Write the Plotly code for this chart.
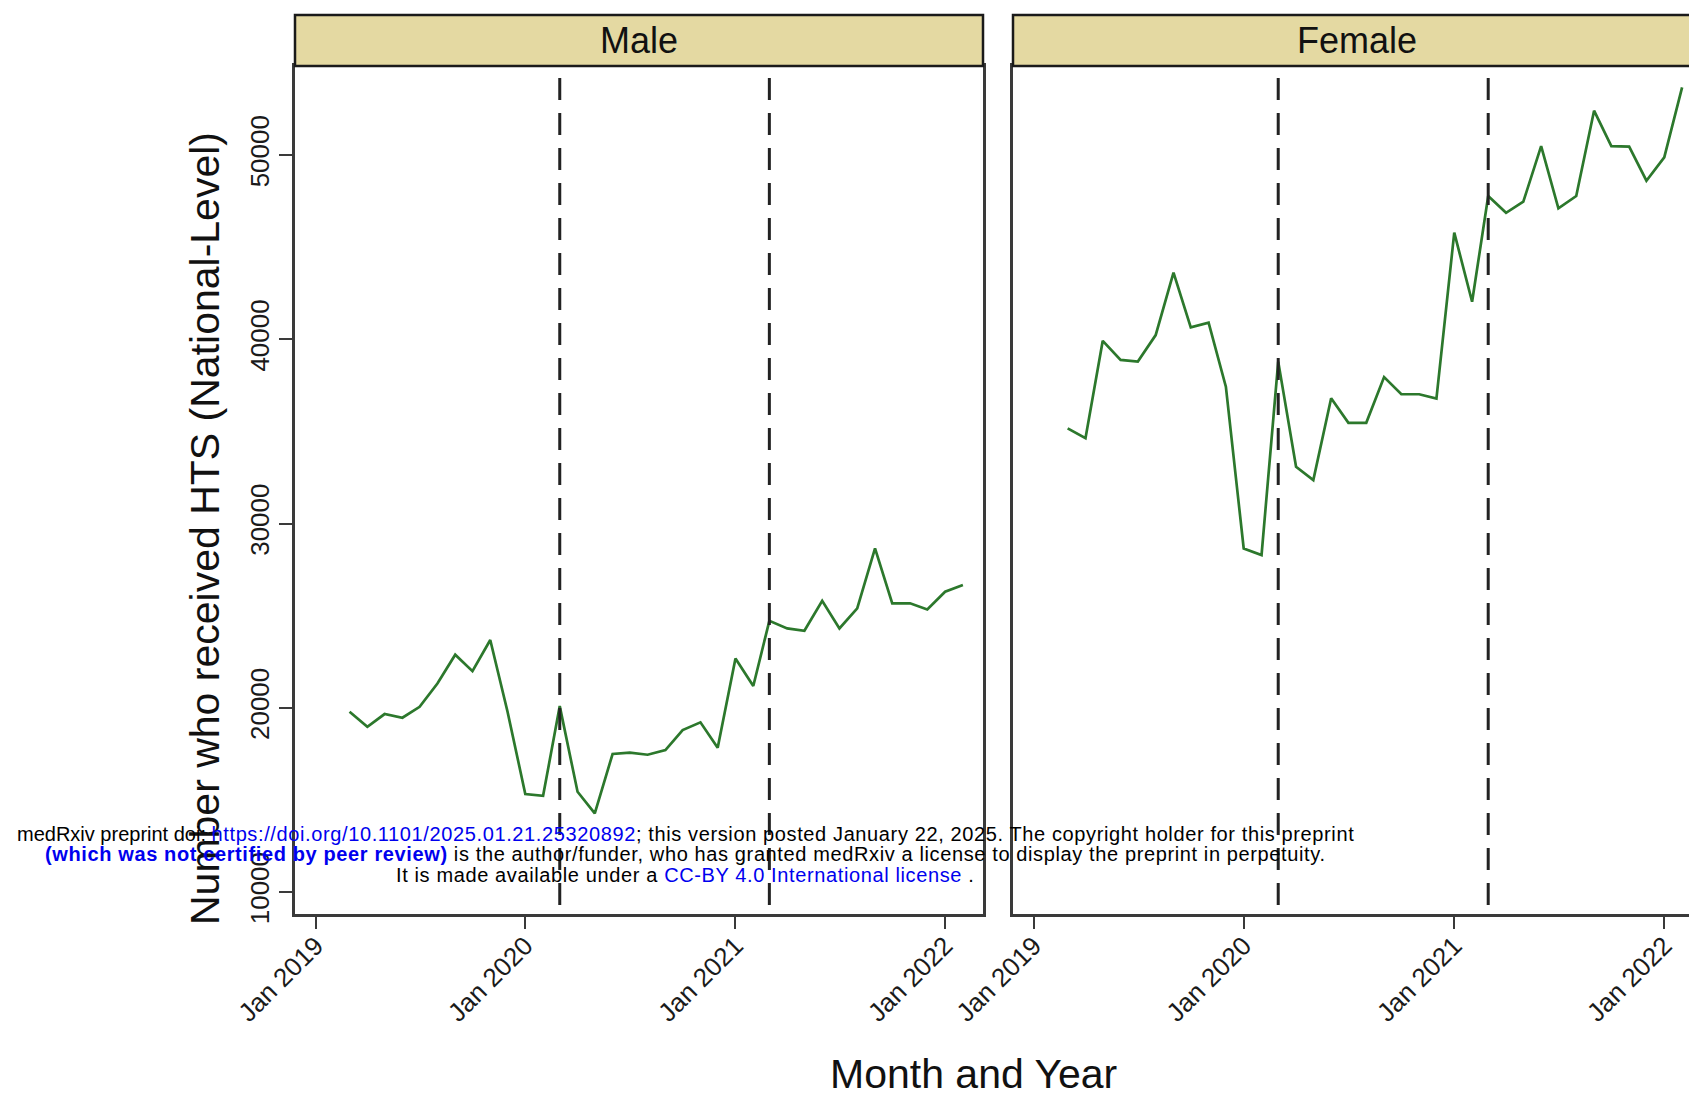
import plotly.graph_objects as go

# ---------------- data ----------------
months = [
    "2019-03-01", "2019-04-01", "2019-05-01", "2019-06-01", "2019-07-01", "2019-08-01",
    "2019-09-01", "2019-10-01", "2019-11-01", "2019-12-01", "2020-01-01", "2020-02-01",
    "2020-03-01", "2020-04-01", "2020-05-01", "2020-06-01", "2020-07-01", "2020-08-01",
    "2020-09-01", "2020-10-01", "2020-11-01", "2020-12-01", "2021-01-01", "2021-02-01",
    "2021-03-01", "2021-04-01", "2021-05-01", "2021-06-01", "2021-07-01", "2021-08-01",
    "2021-09-01", "2021-10-01", "2021-11-01", "2021-12-01", "2022-01-01", "2022-02-01",
]
male = [
    19780, 18970, 19660, 19460, 20050, 21320, 22880, 21990, 23680, 19800, 15320, 15220,
    20090, 15440, 14270, 17490, 17560, 17450, 17700, 18790, 19210, 17830, 22680, 21180,
    24720, 24310, 24180, 25810, 24310, 25400, 28650, 25670, 25670, 25340, 26300, 26660,
]
female = [
    35170, 34630, 39920, 38880, 38790, 40230, 43620, 40650, 40900, 37430, 28650, 28290,
    38790, 33080, 32360, 36800, 35470, 35470, 37950, 37020, 37020, 36780, 45790, 42040,
    47780, 46870, 47470, 50490, 47110, 47780, 52410, 50490, 50460, 48610, 49880, 53680,
]
panels = ["Male", "Female"]
event_dates = ["2020-03-01", "2021-03-01"]
xtick_vals = ["2019-01-01", "2020-01-01", "2021-01-01", "2022-01-01"]
xtick_text = ["Jan 2019", "Jan 2020", "Jan 2021", "Jan 2022"]
ytick_vals = [10000, 20000, 30000, 40000, 50000]
ytick_text = ["10000", "20000", "30000", "40000", "50000"]

# ---------------- layout geometry (page pixel coords; body margin removed) ----------------
W, H = 1689, 1098
def px(x):
    return x / W
def py(y):
    return 1 - y / H

FONT = "Liberation Sans, Arial, Helvetica, sans-serif"
GREEN = "#2C782C"
AXC = "#3a3a3a"

fig = go.Figure()
fig.add_trace(go.Scatter(x=months, y=male, mode="lines", line=dict(color=GREEN, width=2.7),
                         xaxis="x", yaxis="y", showlegend=False, name=panels[0]))
fig.add_trace(go.Scatter(x=months, y=female, mode="lines", line=dict(color=GREEN, width=2.7),
                         xaxis="x2", yaxis="y2", showlegend=False, name=panels[1]))

plot_top, plot_bot = 66, 913.5
ydom = [py(plot_bot), py(plot_top)]
yrange = [8833, 54837]

common_x = dict(
    type="date", tickvals=xtick_vals, ticktext=xtick_text, tickangle=-45,
    ticks="outside", ticklen=13, tickwidth=1.5, tickcolor=AXC, ticklabelstandoff=-9,
    showgrid=False, zeroline=False, showline=True, linecolor=AXC, linewidth=2.5,
    tickfont=dict(family=FONT, size=26, color="#1a1a1a"), automargin=False,
)

fig.update_layout(
    width=W, height=H,
    margin=dict(l=0, r=0, t=0, b=0),
    paper_bgcolor="white", plot_bgcolor="white",
    xaxis=dict(common_x, domain=[px(295), px(983)], range=["2018-11-26", "2022-03-08"],
               mirror=True, anchor="y"),
    xaxis2=dict(common_x, domain=[px(1013), 1.0], range=["2018-11-26", "2022-02-13"],
                mirror=True, anchor="y2"),
    yaxis=dict(domain=ydom, range=yrange, tickvals=ytick_vals, ticktext=ytick_text, tickangle=-90,
               ticks="outside", ticklen=13, tickwidth=1.5, tickcolor=AXC,
               showgrid=False, zeroline=False, showline=True, linecolor=AXC, linewidth=2.5,
               mirror=True, tickfont=dict(family=FONT, size=26, color="#1a1a1a"),
               anchor="x", automargin=False),
    yaxis2=dict(domain=ydom, range=yrange, showticklabels=False, ticks="",
                showgrid=False, zeroline=False, showline=True, linecolor=AXC, linewidth=2.5,
                anchor="x2", automargin=False),
)

shapes = []
# strips
strip_top, strip_bot = 15, 66
for (x0, x1) in [(px(295), px(983)), (px(1013), 1.02)]:
    shapes.append(dict(type="rect", xref="paper", yref="paper", x0=x0, x1=x1,
                       y0=py(strip_bot), y1=py(strip_top), fillcolor="#E4D9A2",
                       line=dict(color="#1a1a1a", width=2.5), layer="above"))
# dashed event lines
for xr, yr in [("x", "y domain"), ("x2", "y2 domain")]:
    for d in event_dates:
        shapes.append(dict(type="line", xref=xr, yref=yr, x0=d, x1=d, y0=0.9858, y1=0,
                           line=dict(color="#222222", width=3, dash="22px,13px")))
fig.update_layout(shapes=shapes)

def A(text, x, y, size, color="#111", angle=0):
    return dict(text=text, x=px(x), y=py(y), xref="paper", yref="paper", showarrow=False,
                xanchor="center", yanchor="middle", textangle=angle,
                font=dict(family=FONT, size=size, color=color))

ann = []
ann.append(A(panels[0], (295 + 983) / 2, 41, 36))
ann.append(A(panels[1], (1013 + 1701) / 2, 41, 36))
ann.append(A("Number who received HTS (National-Level)", 205, 529, 41, angle=-90))
ann.append(A("Month and Year", 973, 1074, 41))

blue = "#0000EE"
wm = [
    ("medRxiv preprint doi: <span style='color:%s;letter-spacing:0.62px'>https://doi.org/10.1101/2025.01.21.25320892</span>"
     "<span style='letter-spacing:0.62px'>; this version posted January 22, 2025. The copyright holder for this preprint</span>" % blue, 834),
    ("<span style='color:%s;letter-spacing:0.62px'><b>(which was not certified by peer review)</b></span>"
     "<span style='letter-spacing:0.62px'> is the author/funder, who has granted medRxiv a license to display the preprint in perpetuity.</span>" % blue, 854),
    ("<span style='letter-spacing:0.62px'>It is made available under a </span>"
     "<span style='color:%s;letter-spacing:0.62px'>CC-BY 4.0 International license</span>"
     "<span style='letter-spacing:0.62px'> .</span>" % blue, 875),
]
for t, y in wm:
    ann.append(A(t, 685, y, 20, color="black"))
fig.update_layout(annotations=ann)

fig.write_html("out.html", config={"displayModeBar": False},
               post_script="document.body.style.margin='0';document.body.style.overflow='hidden';")
